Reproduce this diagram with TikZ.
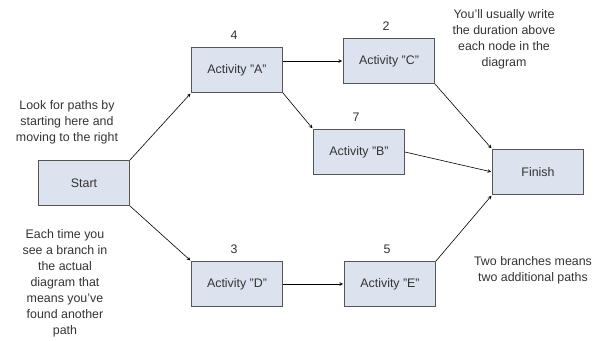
\documentclass[tikz,border=0pt]{standalone}
\usepackage{fontspec}
\setmainfont{Liberation Sans}
\usetikzlibrary{arrows, positioning}
\definecolor{boxfill}{HTML}{DCE3EF}
\definecolor{boxline}{HTML}{555555}
\definecolor{txt}{HTML}{333333}

\begin{document}
\begin{tikzpicture}[
            x = 1pt,
            y = -1pt,
            ->,
            > = stealth,
            shorten > = 1pt,
            semithick,
            every node/.style = {text = txt, font = \fontsize{12.4}{16}\selectfont},
            activity/.style = {rectangle, draw = boxline, fill = boxfill, thick,
                               minimum width = 91pt, minimum height = 45pt},
            dur/.style = {label distance = 3.5pt, xshift = -3pt},
            note/.style = {align = center}
        ]
        \useasboundingbox (0,0) rectangle (597,340);

        \node[activity] (start)  at (84,183)  {Start};
        \node[activity, label={[dur]above:4}] (actA) at (237,70)  {Activity "A"};
        \node[activity, label={[dur]above:2}] (actC) at (389,61)  {Activity "C"};
        \node[activity, label={[dur]above:7}] (actB) at (359,152) {Activity "B"};
        \node[activity] (finish) at (538,172) {Finish};
        \node[activity, label={[dur]above:3}] (actD) at (237,284) {Activity "D"};
        \node[activity, label={[dur]above:5}] (actE) at (390,284) {Activity "E"};

        \node[note] (look)  at (67,122)  {Look for paths by\\starting here and\\moving to the right};
        \node[note] (each)  at (65,283)  {Each time you\\see a branch in\\the actual\\diagram that\\means you've\\found another\\path};
        \node[note] (write) at (504,39)  {You'll usually write\\the duration above\\each node in the\\diagram};
        \node[note] (two)   at (533,270) {Two branches means\\two additional paths};

        % \begin{noindent}
        \path (start.north east) edge (actA.south west)
              (start.south east) edge (actD.north west)
              (actA.east |- actC)  edge (actC.west)
              (actA.south east) edge (actB.north west)
              (actC.south east) edge (finish.north west)
              (actB.east)       edge (finish.west)
              (actD.east)       edge (actE.west)
              (actE.north east) edge (finish.south west);
        % \end{noindent}
    \end{tikzpicture}
\end{document}
